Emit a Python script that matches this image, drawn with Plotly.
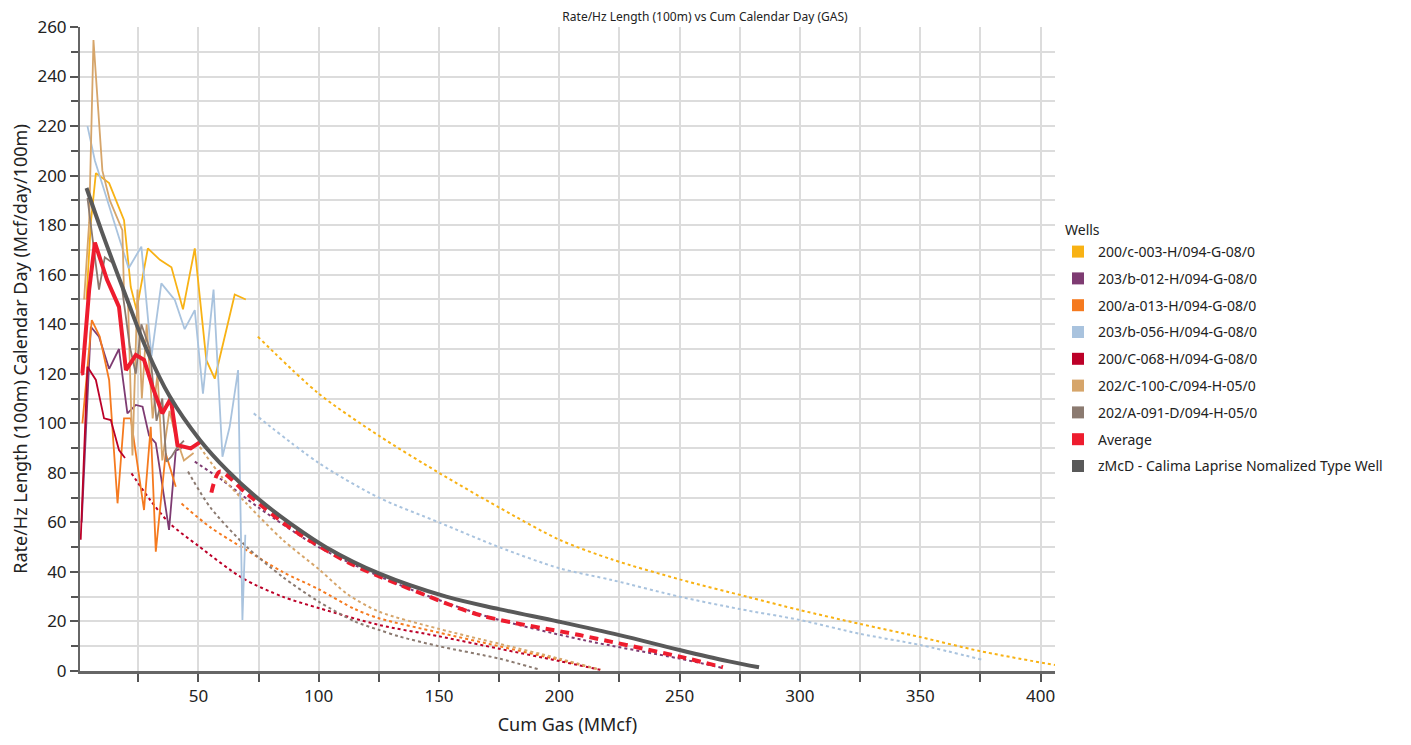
import plotly.graph_objects as go

# ---------------- data ----------------
wells = ["200/c-003-H/094-G-08/0", "203/b-012-H/094-G-08/0", "200/a-013-H/094-G-08/0",
         "203/b-056-H/094-G-08/0", "200/C-068-H/094-G-08/0", "202/C-100-C/094-H-05/0",
         "202/A-091-D/094-H-05/0"]
avg_name = "Average"
type_name = "zMcD - Calima Laprise Nomalized Type Well"

colors = ["#F8B214", "#7E3B72", "#F57A1F", "#A9C3DE", "#BC0028", "#D6A56A", "#8B7A70"]
avg_color = "#EE1C2E"
type_color = "#595959"

# actual (solid) history per well
c003_x = [3.5, 5.3, 7.4, 12.9, 19.1, 21.9, 24.3, 29.0, 34.0, 38.8, 43.6, 48.5, 53.3, 56.8, 65.1, 69.7]
c003_y = [150, 181, 201, 197, 182, 155, 145.7, 170.6, 166, 163, 146, 170.6, 125.5, 118, 152, 150]

b012_x = [1.5, 5.3, 8.7, 12.9, 17.0, 20.5, 24.0, 26.8, 29.5, 32.3, 35.0, 37.8, 40.6, 43.0]
b012_y = [60, 139, 135, 122, 130, 104, 107.4, 106.7, 95, 92, 75, 57, 89, 90]

a013_x = [1.8, 5.7, 9.0, 12.9, 16.4, 19.1, 21.9, 27.4, 30.2, 32.3, 36.4, 40.6]
a013_y = [100, 141.7, 135, 117.5, 67.7, 102, 102, 65, 98.6, 48.2, 87.9, 74.4]

b056_x = [3.9, 7.0, 10.4, 14.5, 18.0, 21.0, 26.3, 30.5, 34.6, 40.2, 44.3, 48.5, 51.9, 56.3, 60.0, 63.0, 66.5, 68.3, 69.5]
b056_y = [220, 206, 195.5, 183, 172.7, 162.6, 171.3, 127, 156.5, 149.8, 138, 145.7, 112, 154, 86.5, 98.6, 121.5, 20.6, 55]

c068_x = [1.1, 3.9, 7.4, 10.8, 13.6, 17.0, 19.5]
c068_y = [53, 122.8, 117.5, 102, 101.3, 89.2, 86]

c100_x = [2.5, 4.6, 6.4, 10.1, 13.2, 18.4, 19.1, 20.8, 22.6, 24.7, 26.5, 28.5, 31.0, 33.0, 35.0, 38.0, 40.5, 44.0, 48.0]
c100_y = [150, 181, 254.7, 202, 190, 178, 152.5, 148, 87, 154, 110, 140, 102, 120, 85, 105, 95, 85, 88]

a091_x = [3.9, 8.7, 11.1, 14.6, 18.0, 21.5, 24.0, 26.3, 29.8, 32.6, 35.0, 36.7, 38.8, 41.0, 44.0]
a091_y = [191, 154, 167, 164.6, 156.5, 131, 120, 140, 130, 101, 110, 84.5, 86.5, 90, 93]

# forecasts (dotted) per well
c003_fx = [74.7, 100, 125, 150, 175, 200, 222, 250, 278, 300, 325, 350, 375, 406]
c003_fy = [135, 112, 95, 80, 66, 53, 45, 37, 30, 24.6, 19, 13.7, 8, 2.4]

b012_fx = [48.5, 60, 75, 100, 133, 170, 210, 250, 268]
b012_fy = [84.5, 77, 66, 50, 35, 22, 12.5, 5, 1.2]

a013_fx = [43, 55, 70, 85, 100, 115, 125, 150, 175, 200, 217]
a013_fy = [67.6, 58, 48.8, 40, 33, 25, 21.3, 15.5, 10, 4.5, 0.5]

b056_fx = [73, 100, 125, 150, 175, 200, 222, 250, 275, 300, 325, 350, 376]
b056_fy = [104, 84, 70, 60, 50, 41.5, 36.7, 30, 25, 20.6, 15, 10.5, 4.5]

c068_fx = [22.2, 30, 38.1, 50, 68.5, 85, 100.4, 125, 150, 175, 200, 217]
c068_fy = [79.8, 69, 59.6, 50.5, 37.4, 30, 25.3, 18.6, 14, 9, 4, 0.5]

c100_fx = [50.6, 60, 70, 85, 100.4, 112, 125, 150, 175, 200, 217]
c100_fy = [90.5, 78, 67.6, 53, 40.8, 31, 24, 17, 11, 5, 0.5]

a091_fx = [45.7, 55, 70, 85, 100, 115, 125, 133.6, 150, 175, 192]
a091_fy = [80.5, 66, 50.2, 38, 28, 20, 16.6, 13.9, 10, 5, 0.5]

# average
avg_x = [1.2, 1.8, 4.6, 7.0, 8.3, 12.0, 17.0, 18.7, 19.9, 24.0, 27.4, 30.9, 35.0, 38.5, 41.3, 46.8, 51.0]
avg_y = [120, 120.2, 153.8, 173, 169, 158, 147, 129.6, 121.5, 127.6, 125.6, 114.8, 104, 110, 91.2, 89.9, 92.6]
avg_fx = [55.4, 58.9, 70, 89.3, 112.9, 132.3, 166.9, 208.4, 250, 268]
avg_fy = [72, 80.5, 71.7, 57, 43.5, 35.4, 22.6, 14.5, 5.8, 1.5]

# type well
type_x = [3.5, 10, 20, 28.4, 38, 50.6, 62, 75.5, 89, 103, 125, 153, 175, 200, 225, 250, 270, 283]
type_y = [195, 177, 151, 130, 111, 93.3, 81, 69, 59, 50, 39.4, 30, 25, 19.9, 14.5, 8.5, 4, 1.5]

actual = [(c003_x, c003_y), (b012_x, b012_y), (a013_x, a013_y), (b056_x, b056_y),
          (c068_x, c068_y), (c100_x, c100_y), (a091_x, a091_y)]
fcst = [(c003_fx, c003_fy), (b012_fx, b012_fy), (a013_fx, a013_fy), (b056_fx, b056_fy),
        (c068_fx, c068_fy), (c100_fx, c100_fy), (a091_fx, a091_fy)]

# ---------------- figure ----------------
# the page body has an 8px default margin, so the figure is 8px smaller and offsets are reduced
W, H = 1403, 737
ML, MR, MT, MB = 72, 356, 19, 74

fig = go.Figure()

for (fx, fy), col in zip(fcst, colors):
    fig.add_trace(go.Scatter(x=fx, y=fy, mode="lines", showlegend=False, hoverinfo="skip",
                             line=dict(color=col, width=2, dash="3px,3px", shape="spline", smoothing=0.8)))

for (ax, ay), col in zip(actual, colors):
    fig.add_trace(go.Scatter(x=ax, y=ay, mode="lines", showlegend=False,
                             line=dict(color=col, width=1.8)))

fig.add_trace(go.Scatter(x=avg_x, y=avg_y, mode="lines", showlegend=False,
                         line=dict(color=avg_color, width=4)))
fig.add_trace(go.Scatter(x=avg_fx, y=avg_fy, mode="lines", showlegend=False,
                         line=dict(color=avg_color, width=4, dash="9px,6px", shape="spline", smoothing=0.8)))
fig.add_trace(go.Scatter(x=type_x, y=type_y, mode="lines", showlegend=False,
                         line=dict(color=type_color, width=4, shape="spline")))

# legend entries with square swatches
for i, (name, col) in enumerate(zip(wells + [avg_name, type_name], colors + [avg_color, type_color])):
    fig.add_trace(go.Scatter(x=[None], y=[None], mode="markers", name=name, legendgroup=str(i),
                             marker=dict(symbol="square", size=14, color=col)))

pw = W - ML - MR
ph = H - MT - MB
fig.update_layout(
    width=W, height=H,
    margin=dict(l=ML, r=MR, t=MT, b=MB, autoexpand=False),
    paper_bgcolor="white", plot_bgcolor="white",
    font=dict(family="Noto Sans, Open Sans, sans-serif", color="#222222"),
    title=dict(text="Rate/Hz Length (100m) vs Cum Calendar Day (GAS)", x=(705 - 8) / W, xref="container",
               y=1 - 9 / H, yref="container", yanchor="middle", xanchor="center",
               font=dict(size=12, color="#222222")),
    legend=dict(font=dict(size=14, color="#222222"),
                x=1050 / W, xref="container", xanchor="left",
                y=1 - 228 / H, yref="container", yanchor="top",
                tracegroupgap=5.6, itemwidth=30, itemsizing="constant", bgcolor="rgba(0,0,0,0)"),
    showlegend=True,
    annotations=[dict(text="Wells", x=(1063 - 8 - ML) / pw, y=(663 - (229 - 8)) / ph,
                      xref="paper", yref="paper",
                      showarrow=False, xanchor="left", yanchor="middle",
                      font=dict(size=14, color="#222222"))],
)

fig.update_xaxes(
    range=[0.8, 406], tick0=0, dtick=50, showgrid=True, gridcolor="#DCDCDC", gridwidth=1.5,
    minor=dict(tick0=0, dtick=25, showgrid=True, gridcolor="#DCDCDC", gridwidth=1.5,
               ticks="outside", ticklen=8, tickcolor="#555555", tickwidth=2),
    ticks="outside", ticklen=8, tickcolor="#555555", tickwidth=2,
    showline=True, linecolor="#666666", linewidth=3, zeroline=False, automargin=False,
    tickfont=dict(size=17), title=dict(text="Cum Gas (MMcf)", font=dict(size=18), standoff=12),
)
fig.update_yaxes(
    range=[0, 260], tick0=0, dtick=20, showgrid=True, gridcolor="#DCDCDC", gridwidth=1.5,
    minor=dict(tick0=0, dtick=10, showgrid=True, gridcolor="#DCDCDC", gridwidth=1.5,
               ticks="outside", ticklen=7, tickcolor="#555555", tickwidth=2),
    ticks="outside", ticklen=8, tickcolor="#555555", tickwidth=2,
    showline=True, linecolor="#666666", linewidth=2, zeroline=False, automargin=False,
    tickfont=dict(size=17),
    title=dict(text="Rate/Hz Length (100m) Calendar Day (Mcf/day/100m)", font=dict(size=18), standoff=8),
)

fig.write_html("out.html")
